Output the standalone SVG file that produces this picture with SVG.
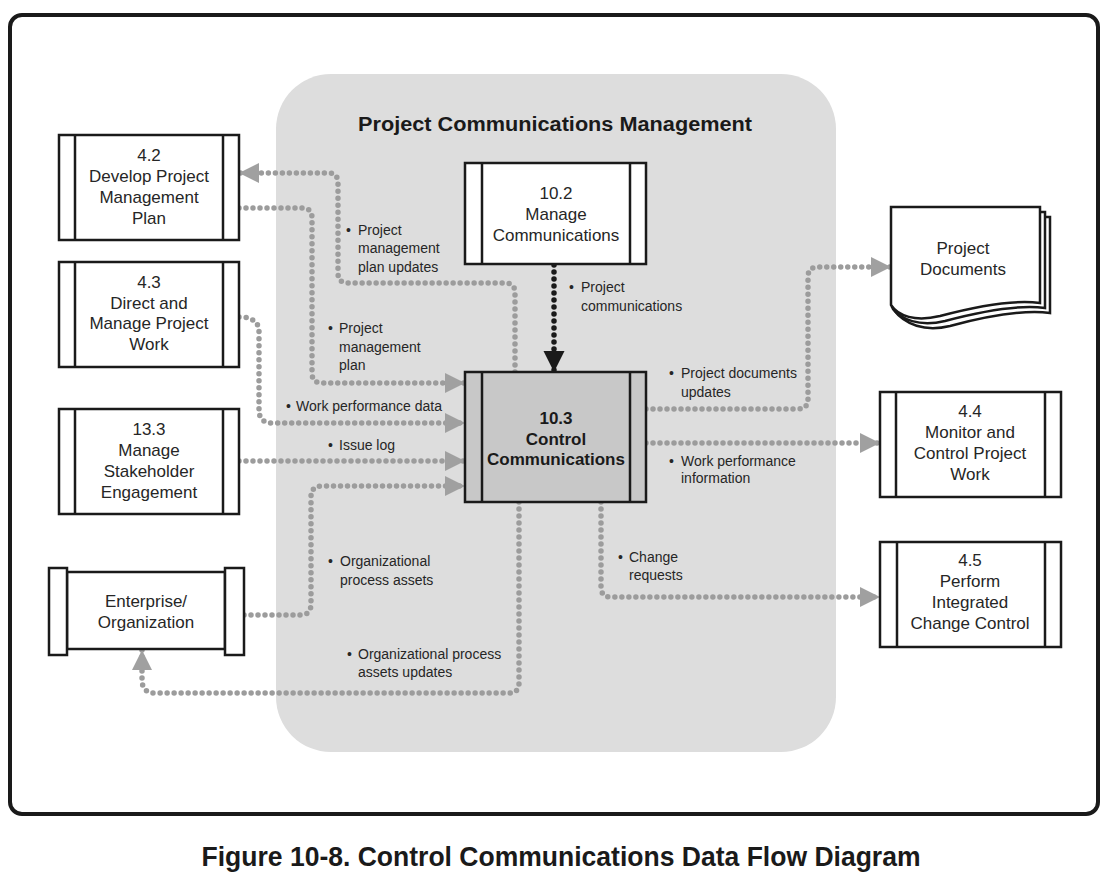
<svg xmlns="http://www.w3.org/2000/svg" width="1111" height="883" viewBox="0 0 1111 883">
<style>
.box{fill:#fff;stroke:#1a1a1a;stroke-width:2.5}
.ln{stroke:#1a1a1a;stroke-width:2.5}
.t{font-family:"Liberation Sans",Arial,sans-serif;font-size:17px;fill:#262626;text-anchor:middle}
.tb{font-family:"Liberation Sans",Arial,sans-serif;font-size:17px;font-weight:bold;fill:#1a1a1a;text-anchor:middle}
.lb{font-family:"Liberation Sans",Arial,sans-serif;font-size:14px;fill:#262626}
.dot{fill:none;stroke:#9c9c9c;stroke-width:5.5;stroke-linecap:round;stroke-dasharray:0 7}
.dotk{fill:none;stroke:#1a1a1a;stroke-width:5.5;stroke-linecap:round;stroke-dasharray:0 7}
</style>
<defs>
<marker id="ag" markerUnits="userSpaceOnUse" markerWidth="21" markerHeight="21" refX="20" refY="10" orient="auto" viewBox="0 0 21 21">
<path d="M0,0 L20,10 L0,20 Z" fill="#a0a0a0"/>
</marker>
<marker id="ak" markerUnits="userSpaceOnUse" markerWidth="22" markerHeight="22" refX="21" refY="10.5" orient="auto" viewBox="0 0 22 22">
<path d="M0,0 L21,10.5 L0,21 Z" fill="#1a1a1a"/>
</marker>
</defs>
<rect x="0" y="0" width="1111" height="883" fill="#fff"/>
<rect x="10" y="15" width="1088" height="799" rx="12" fill="none" stroke="#1a1a1a" stroke-width="4"/>
<rect x="276" y="74" width="560" height="678" rx="55" fill="#dddddd"/>
<text x="555" y="131" font-family="Liberation Sans,Arial,sans-serif" font-size="20" font-weight="bold" fill="#1a1a1a" text-anchor="middle" textLength="394" lengthAdjust="spacingAndGlyphs">Project Communications Management</text>

<g id="connectors">
<path class="dot" d="M515,372 V293 Q515,283 505,283 H348 Q338,283 338,273 V183 Q338,173 328,173 H239" marker-end="url(#ag)"/>
<path class="dot" d="M239,208 H302 Q312,208 312,218 V373 Q312,383 322,383 H465" marker-end="url(#ag)"/>
<path class="dot" d="M239,317 Q259,317 259,332 V410 Q259,423 272,423 H465" marker-end="url(#ag)"/>
<path class="dot" d="M239,461 H465" marker-end="url(#ag)"/>
<path class="dot" d="M244,615 H300 Q311,615 311,604 V497 Q311,486 322,486 H465" marker-end="url(#ag)"/>
<path class="dot" d="M519,502 V683 Q519,693 509,693 H155 Q142,693 142,680 V650" marker-end="url(#ag)"/>
<path class="dot" d="M646,409 H798 Q808,409 808,399 V277 Q808,267 818,267 H891" marker-end="url(#ag)"/>
<path class="dot" d="M646,443 H880" marker-end="url(#ag)"/>
<path class="dot" d="M601,502 V587 Q601,597 611,597 H880" marker-end="url(#ag)"/>
<path class="dotk" d="M554,265 V372" marker-end="url(#ak)"/>
</g>

<g id="labels">
<text class="lb"><tspan x="346" y="235">•</tspan><tspan x="358">Project</tspan><tspan x="358" y="253">management</tspan><tspan x="358" y="272">plan updates</tspan></text>
<text class="lb"><tspan x="328" y="333">•</tspan><tspan x="339">Project</tspan><tspan x="339" y="352">management</tspan><tspan x="339" y="370">plan</tspan></text>
<text class="lb"><tspan x="286" y="411">•</tspan><tspan x="296">Work performance data</tspan></text>
<text class="lb"><tspan x="328" y="450">•</tspan><tspan x="339">Issue log</tspan></text>
<text class="lb"><tspan x="328" y="566">•</tspan><tspan x="340">Organizational</tspan><tspan x="340" y="585">process assets</tspan></text>
<text class="lb"><tspan x="347" y="659">•</tspan><tspan x="358">Organizational process</tspan><tspan x="358" y="677">assets updates</tspan></text>
<text class="lb"><tspan x="569" y="292">•</tspan><tspan x="581">Project</tspan><tspan x="581" y="311">communications</tspan></text>
<text class="lb"><tspan x="669" y="378">•</tspan><tspan x="681">Project documents</tspan><tspan x="681" y="397">updates</tspan></text>
<text class="lb"><tspan x="669" y="466">•</tspan><tspan x="681">Work performance</tspan><tspan x="681" y="483">information</tspan></text>
<text class="lb"><tspan x="618" y="562">•</tspan><tspan x="629">Change</tspan><tspan x="629" y="580">requests</tspan></text>
</g>

<g id="n42">
<rect class="box" x="59" y="135" width="180" height="105"/>
<line class="ln" x1="75" y1="135" x2="75" y2="240"/><line class="ln" x1="223" y1="135" x2="223" y2="240"/>
<text class="t"><tspan x="149" y="161">4.2</tspan><tspan x="149" y="182">Develop Project</tspan><tspan x="149" y="203">Management</tspan><tspan x="149" y="224">Plan</tspan></text>
</g>
<g id="n43">
<rect class="box" x="59" y="262" width="180" height="105"/>
<line class="ln" x1="75" y1="262" x2="75" y2="367"/><line class="ln" x1="223" y1="262" x2="223" y2="367"/>
<text class="t"><tspan x="149" y="288">4.3</tspan><tspan x="149" y="309">Direct and</tspan><tspan x="149" y="329">Manage Project</tspan><tspan x="149" y="350">Work</tspan></text>
</g>
<g id="n133">
<rect class="box" x="59" y="409" width="180" height="105"/>
<line class="ln" x1="75" y1="409" x2="75" y2="514"/><line class="ln" x1="223" y1="409" x2="223" y2="514"/>
<text class="t"><tspan x="149" y="435">13.3</tspan><tspan x="149" y="456">Manage</tspan><tspan x="149" y="477">Stakeholder</tspan><tspan x="149" y="498">Engagement</tspan></text>
</g>
<g id="enterprise">
<rect class="box" x="67" y="572" width="158" height="77"/>
<rect class="box" x="49" y="568" width="18" height="87"/>
<rect class="box" x="225" y="568" width="19" height="87"/>
<text class="t"><tspan x="146" y="607">Enterprise/</tspan><tspan x="146" y="628">Organization</tspan></text>
</g>
<g id="n102">
<rect class="box" x="465" y="163" width="181" height="101"/>
<line class="ln" x1="482" y1="163" x2="482" y2="264"/><line class="ln" x1="630" y1="163" x2="630" y2="264"/>
<text class="t"><tspan x="556" y="199">10.2</tspan><tspan x="556" y="220">Manage</tspan><tspan x="556" y="241">Communications</tspan></text>
</g>
<g id="n103">
<rect x="465" y="372" width="181" height="130" fill="#c8c8c8" stroke="#1a1a1a" stroke-width="2.5"/>
<line class="ln" x1="482" y1="372" x2="482" y2="502"/><line class="ln" x1="630" y1="372" x2="630" y2="502"/>
<text class="tb"><tspan x="556" y="424">10.3</tspan><tspan x="556" y="445">Control</tspan><tspan x="556" y="465">Communications</tspan></text>
</g>
<g id="projdocs">
<path class="box" d="M902,217 H1050 V313 C1020,309 980,318 950,326 C925,332 905,325 893,309 Z"/>
<path class="box" d="M897,212 H1045 V308 C1015,304 975,313 945,321 C920,327 900,320 892,307 Z"/>
<path class="box" d="M891,207 H1040 V303 C1010,299 970,308 940,316 C915,322 898,316 891,305 Z"/>
<text class="t"><tspan x="963" y="254">Project</tspan><tspan x="963" y="275">Documents</tspan></text>
</g>
<g id="n44">
<rect class="box" x="880" y="392" width="181" height="105"/>
<line class="ln" x1="896" y1="392" x2="896" y2="497"/><line class="ln" x1="1045" y1="392" x2="1045" y2="497"/>
<text class="t"><tspan x="970" y="417">4.4</tspan><tspan x="970" y="438">Monitor and</tspan><tspan x="970" y="459">Control Project</tspan><tspan x="970" y="480">Work</tspan></text>
</g>
<g id="n45">
<rect class="box" x="880" y="542" width="181" height="105"/>
<line class="ln" x1="897" y1="542" x2="897" y2="647"/><line class="ln" x1="1045" y1="542" x2="1045" y2="647"/>
<text class="t"><tspan x="970" y="566">4.5</tspan><tspan x="970" y="587">Perform</tspan><tspan x="970" y="608">Integrated</tspan><tspan x="970" y="629">Change Control</tspan></text>
</g>

<text x="561" y="866" font-family="Liberation Sans,Arial,sans-serif" font-size="27" font-weight="bold" fill="#1a1a1a" text-anchor="middle" textLength="719" lengthAdjust="spacingAndGlyphs">Figure 10-8. Control Communications Data Flow Diagram</text>
</svg>
